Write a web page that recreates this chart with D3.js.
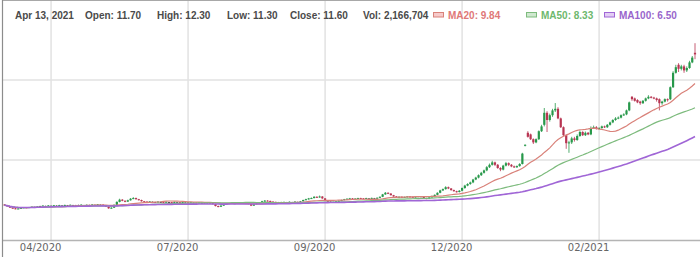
<!DOCTYPE html>
<html>
<head>
<meta charset="utf-8">
<script src="https://cdn.jsdelivr.net/npm/d3@7"></script>
<style>
	body { margin: 0; background: #fff; }
	svg { display: block; }
</style>
</head>
<body>
<div id="chart"></div>
<script>
// daily bars, oldest first (last bar = Apr 13, 2021)
var opens = [
	2.22,2.18,2.10,2.02,1.98,1.95,1.97,2.00,2.04,2.02,
	2.05,2.06,2.06,2.12,2.12,2.13,2.13,2.14,2.14,2.15,
	2.15,2.16,2.16,2.17,2.17,2.18,2.18,2.19,2.19,2.18,
	2.18,2.19,2.19,2.20,2.20,2.21,2.21,2.18,2.08,1.98,
	2.02,2.20,2.38,2.52,2.45,2.40,2.48,2.58,2.62,2.55,
	2.50,2.42,2.40,2.38,2.39,2.37,2.37,2.38,2.38,2.36,
	2.37,2.37,2.35,2.36,2.36,2.34,2.35,2.35,2.33,2.34,
	2.34,2.32,2.33,2.33,2.31,2.34,2.30,2.25,2.12,2.08,
	2.15,2.22,2.28,2.30,2.30,2.30,2.31,2.31,2.29,2.32,
	2.25,2.15,2.24,2.30,2.34,2.42,2.46,2.44,2.40,2.38,
	2.36,2.35,2.37,2.36,2.36,2.37,2.37,2.38,2.38,2.42,
	2.50,2.55,2.60,2.62,2.70,2.66,2.72,2.60,2.45,2.40,
	2.36,2.38,2.42,2.45,2.50,2.55,2.58,2.60,2.56,2.59,
	2.62,2.60,2.58,2.60,2.60,2.61,2.61,2.64,2.70,2.85,
	2.95,2.90,2.80,2.72,2.68,2.70,2.66,2.69,2.72,2.70,
	2.68,2.71,2.73,2.70,2.62,2.58,2.66,2.75,2.82,2.95,
	3.10,3.18,3.30,3.22,3.12,3.05,3.00,3.08,3.25,3.40,
	3.50,3.60,3.78,3.90,4.05,4.20,4.35,4.55,4.70,4.85,
	4.70,4.50,4.40,4.65,4.80,4.70,4.60,4.55,4.62,4.75,
	5.90,6.70,6.60,6.30,6.10,6.30,6.80,7.20,7.95,7.50,
	7.80,8.10,8.20,7.60,7.05,6.55,6.05,6.10,6.35,6.25,
	6.50,6.75,6.55,6.70,6.60,7.00,7.05,6.95,7.00,7.10,
	7.05,7.20,7.35,7.50,7.60,7.65,7.80,7.85,8.10,8.95,
	8.85,8.75,8.65,8.55,8.70,8.85,8.95,8.90,8.85,8.80,
	8.55,8.65,8.80,8.80,9.55,10.45,10.95,10.70,10.85,10.60,
	10.75,11.10,11.70
];
var highs = [
	2.25,2.20,2.12,2.05,2.00,1.99,2.02,2.06,2.06,2.07,
	2.10,2.09,2.12,2.14,2.17,2.15,2.18,2.16,2.19,2.17,
	2.20,2.18,2.21,2.19,2.22,2.20,2.20,2.21,2.23,2.20,
	2.22,2.21,2.24,2.22,2.25,2.23,2.23,2.19,2.10,2.05,
	2.22,2.42,2.58,2.56,2.48,2.52,2.62,2.68,2.65,2.57,
	2.52,2.44,2.42,2.43,2.41,2.39,2.42,2.40,2.40,2.41,
	2.39,2.39,2.40,2.38,2.38,2.39,2.37,2.37,2.38,2.36,
	2.36,2.37,2.35,2.35,2.36,2.36,2.32,2.27,2.15,2.17,
	2.24,2.30,2.32,2.34,2.32,2.35,2.33,2.33,2.34,2.33,
	2.27,2.26,2.32,2.36,2.45,2.50,2.49,2.46,2.42,2.40,
	2.38,2.39,2.40,2.38,2.41,2.39,2.42,2.40,2.44,2.52,
	2.58,2.63,2.66,2.74,2.73,2.78,2.74,2.62,2.48,2.43,
	2.40,2.44,2.48,2.52,2.57,2.60,2.63,2.62,2.61,2.64,
	2.64,2.62,2.64,2.62,2.65,2.63,2.66,2.72,2.88,3.00,
	2.98,2.93,2.82,2.75,2.72,2.72,2.71,2.74,2.74,2.72,
	2.73,2.75,2.75,2.72,2.64,2.68,2.78,2.85,2.98,3.14,
	3.22,3.36,3.34,3.25,3.15,3.08,3.12,3.28,3.45,3.55,
	3.65,3.82,3.95,4.10,4.26,4.40,4.62,4.78,4.95,4.90,
	4.75,4.55,4.70,4.88,4.85,4.75,4.65,4.66,4.80,5.45,
	5.98,6.80,6.65,6.35,6.35,6.85,7.20,8.25,8.05,7.90,
	8.20,8.56,8.30,7.65,7.10,6.60,6.20,6.45,6.45,6.60,
	6.85,6.80,6.78,6.75,7.10,7.15,7.12,7.05,7.15,7.15,
	7.25,7.40,7.55,7.68,7.72,7.85,7.92,8.15,8.65,9.00,
	8.90,8.80,8.70,8.75,8.90,9.05,9.00,8.95,8.90,8.85,
	8.70,8.85,8.85,9.60,10.55,10.95,11.05,10.95,10.95,10.85,
	11.20,11.50,12.30
];
var lows = [
	2.16,2.08,2.00,1.96,1.92,1.93,1.95,1.98,2.00,2.00,
	2.03,2.04,2.04,2.10,2.10,2.11,2.11,2.12,2.12,2.13,
	2.13,2.14,2.14,2.15,2.15,2.16,2.14,2.17,2.17,2.16,
	2.16,2.17,2.17,2.18,2.18,2.19,2.16,2.06,1.95,1.96,
	2.00,2.18,2.35,2.42,2.36,2.38,2.46,2.55,2.52,2.47,
	2.40,2.38,2.36,2.36,2.37,2.35,2.35,2.36,2.34,2.34,
	2.35,2.33,2.33,2.34,2.32,2.32,2.33,2.31,2.31,2.32,
	2.30,2.30,2.31,2.29,2.29,2.28,2.23,2.10,2.05,2.06,
	2.13,2.20,2.26,2.28,2.28,2.28,2.29,2.27,2.27,2.23,
	2.12,2.13,2.22,2.28,2.32,2.40,2.42,2.38,2.36,2.34,
	2.33,2.33,2.35,2.34,2.34,2.35,2.35,2.36,2.36,2.40,
	2.48,2.52,2.57,2.60,2.63,2.64,2.57,2.43,2.37,2.33,
	2.34,2.36,2.40,2.43,2.48,2.53,2.56,2.54,2.54,2.57,
	2.58,2.56,2.56,2.58,2.58,2.59,2.59,2.62,2.68,2.82,
	2.87,2.78,2.70,2.66,2.66,2.64,2.64,2.67,2.68,2.66,
	2.66,2.69,2.68,2.60,2.55,2.56,2.64,2.72,2.80,2.92,
	3.06,3.15,3.18,3.08,3.02,2.96,2.97,3.05,3.20,3.36,
	3.45,3.55,3.74,3.85,4.00,4.15,4.30,4.50,4.65,4.62,
	4.45,4.30,4.35,4.60,4.62,4.55,4.50,4.50,4.58,4.72,
	5.85,6.40,6.25,6.00,6.05,6.25,6.75,7.10,6.75,7.40,
	7.70,8.00,7.55,7.00,6.50,5.70,5.45,6.00,6.15,6.20,
	6.45,6.50,6.50,6.55,6.55,6.95,6.90,6.90,6.95,7.00,
	7.00,7.15,7.30,7.45,7.55,7.60,7.75,7.80,8.05,8.70,
	8.65,8.55,8.45,8.50,8.65,8.80,8.85,8.80,8.65,8.10,
	8.45,8.60,8.65,8.75,9.50,10.40,10.50,10.60,10.45,10.50,
	10.70,11.05,11.30
];
var closes = [
	2.18,2.10,2.02,1.98,1.95,1.97,2.00,2.04,2.02,2.05,
	2.08,2.06,2.10,2.12,2.15,2.13,2.16,2.14,2.17,2.15,
	2.18,2.16,2.19,2.17,2.20,2.18,2.16,2.19,2.21,2.18,
	2.20,2.19,2.22,2.20,2.23,2.21,2.18,2.08,1.98,2.02,
	2.20,2.38,2.52,2.45,2.40,2.48,2.58,2.62,2.55,2.50,
	2.42,2.40,2.38,2.41,2.39,2.37,2.40,2.38,2.36,2.39,
	2.37,2.35,2.38,2.36,2.34,2.37,2.35,2.33,2.36,2.34,
	2.32,2.35,2.33,2.31,2.34,2.30,2.25,2.12,2.08,2.15,
	2.22,2.28,2.30,2.32,2.30,2.33,2.31,2.29,2.32,2.25,
	2.15,2.24,2.30,2.34,2.42,2.46,2.44,2.40,2.38,2.36,
	2.35,2.37,2.38,2.36,2.39,2.37,2.40,2.38,2.42,2.50,
	2.55,2.60,2.62,2.70,2.66,2.72,2.60,2.45,2.40,2.36,
	2.38,2.42,2.45,2.50,2.55,2.58,2.60,2.56,2.59,2.62,
	2.60,2.58,2.62,2.60,2.63,2.61,2.64,2.70,2.85,2.95,
	2.90,2.80,2.72,2.68,2.70,2.66,2.69,2.72,2.70,2.68,
	2.71,2.73,2.70,2.62,2.58,2.66,2.75,2.82,2.95,3.10,
	3.18,3.30,3.22,3.12,3.05,3.00,3.08,3.25,3.40,3.50,
	3.60,3.78,3.90,4.05,4.20,4.35,4.55,4.70,4.85,4.70,
	4.50,4.40,4.65,4.80,4.70,4.60,4.55,4.62,4.75,5.40,
	5.95,6.45,6.30,6.10,6.30,6.80,7.10,7.95,7.50,7.80,
	8.10,8.20,7.60,7.05,6.55,6.05,6.10,6.35,6.25,6.50,
	6.75,6.55,6.70,6.60,7.00,7.05,6.95,7.00,7.10,7.05,
	7.20,7.35,7.50,7.60,7.65,7.80,7.85,8.10,8.60,8.80,
	8.70,8.60,8.55,8.70,8.85,8.95,8.90,8.85,8.75,8.55,
	8.65,8.80,8.75,9.55,10.45,10.80,10.70,10.85,10.60,10.75,
	11.10,11.40,11.60
];

// x axis labels sit on bar indices
var tickIdx = [17, 67, 117, 167, 217];
var tickLabels = ["04/2020", "07/2020", "09/2020", "12/2020", "02/2021"];
var priceTicks = [0, 5, 10, 15];

var lastDate = "Apr 13, 2021";
var lastVolume = 2166704;

var maPeriods = [20, 50, 100];
var maValues = [9.84, 8.33, 6.50];
var maColors = ["#d9827a", "#7dbb7d", "#a066d6"];
var maText = ["#e07878", "#6db86d", "#9966cc"];
var maFill = ["#f6caca", "#cfe8cf", "#e2cdf4"];

var stockChart = (function(){
	var width = 700, height = 257;
	var plotBottom = 240;

	function movingAvg(vals, n){
		return vals.map(function(d, i){
			return d3.mean(vals.slice(Math.max(0, i - n + 1), i + 1));
		});
	}

	function drawHeader(svg){
		var f = d3.format(".2f");
		var items = [
			{x: 15, t: lastDate},
			{x: 85, t: "Open: " + f(opens[opens.length-1])},
			{x: 157, t: "High: " + f(highs[highs.length-1])},
			{x: 227, t: "Low: " + f(lows[lows.length-1])},
			{x: 290, t: "Close: " + f(closes[closes.length-1])},
			{x: 363, t: "Vol: " + d3.format(",")(lastVolume)}
		];
		svg.append("g").selectAll("text")
			.data(items).enter().append("text")
			.attr("x", function(d){ return d.x; })
			.attr("y", 19)
			.attr("class", "hdr")
			.attr("fill", "#4a4a4a")
			.text(function(d){ return d.t; });

		var legX = [433, 526, 604];
		var leg = svg.append("g").selectAll("g")
			.data(maPeriods).enter().append("g")
			.attr("transform", function(d, i){ return "translate(" + legX[i] + ",0)"; });
		leg.append("rect")
			.attr("x", 0.5).attr("y", 12.5)
			.attr("width", 10).attr("height", 4.5)
			.attr("fill", function(d, i){ return maFill[i]; })
			.attr("stroke", function(d, i){ return maColors[i]; })
			.attr("stroke-width", 1);
		leg.append("text")
			.attr("x", 15).attr("y", 19)
			.attr("class", "hdr")
			.attr("fill", function(d, i){ return maText[i]; })
			.text(function(d, i){ return "MA" + d + ": " + f(maValues[i]); });
	}

	return {
		init: function(){
			var svg = d3.select("#chart").append("svg")
				.attr("width", width)
				.attr("height", height);

			svg.append("style").text(
				".hdr{font-family:'Liberation Sans',Arial,sans-serif;font-size:10px;font-weight:bold;}" +
				".tick text{font-family:'DejaVu Sans',Verdana,sans-serif;font-size:10px;fill:#666;}"
			);

			var n = closes.length;
			var x = d3.scaleLinear().domain([0, n - 1]).range([4.5, 695]);
			var y = d3.scaleLinear().domain([0, 15]).range([plotBottom, 0]);

			// grid
			var grid = svg.append("g");
			grid.selectAll(".hg")
				.data(priceTicks.slice(1, 3)).enter().append("line")
				.attr("x1", 2).attr("x2", width)
				.attr("y1", function(d){ return y(d); })
				.attr("y2", function(d){ return y(d); })
				.attr("stroke", "#e2e2e2").attr("stroke-width", 1.5);
			grid.selectAll(".vg")
				.data(tickIdx).enter().append("line")
				.attr("x1", function(d){ return x(d); })
				.attr("x2", function(d){ return x(d); })
				.attr("y1", 0).attr("y2", plotBottom)
				.attr("stroke", "#e2e2e2").attr("stroke-width", 1.5);

			// x axis labels
			var xAxis = d3.axisBottom(x)
				.tickValues(tickIdx)
				.tickSize(0)
				.tickPadding(0)
				.tickFormat(function(d, i){ return tickLabels[i]; });
			var ax = svg.append("g")
				.attr("transform", "translate(0," + plotBottom + ")")
				.call(xAxis);
			ax.select(".domain").remove();
			ax.selectAll(".tick text")
				.attr("x", -11)
				.attr("y", 11)
				.attr("dy", 0);

			// frame
			svg.append("line")
				.attr("x1", 2).attr("x2", width)
				.attr("y1", plotBottom + 0.5).attr("y2", plotBottom + 0.5)
				.attr("stroke", "#b4b4b4").attr("stroke-width", 1.3);
			svg.append("line")
				.attr("x1", 2).attr("x2", width)
				.attr("y1", 0.5).attr("y2", 0.5)
				.attr("stroke", "#a8a8a8");
			svg.append("line")
				.attr("x1", 2.5).attr("x2", 2.5)
				.attr("y1", 0).attr("y2", height)
				.attr("stroke", "#8c8c8c").attr("stroke-width", 1.2);

			// candles
			var bars = d3.range(n).map(function(i){
				return {i: i, o: opens[i], h: highs[i], l: lows[i], c: closes[i]};
			});
			function col(d){
				if (d.c > d.o) return "#27984a";
				if (d.c < d.o) return "#b83552";
				return "#4a4a4a";
			}
			var candle = svg.append("g").selectAll("g")
				.data(bars).enter().append("g");
			candle.append("line")
				.attr("x1", function(d){ return x(d.i); })
				.attr("x2", function(d){ return x(d.i); })
				.attr("y1", function(d){ return y(d.h); })
				.attr("y2", function(d){ return y(d.l); })
				.attr("stroke", col)
				.attr("stroke-width", 0.8);
			candle.append("rect")
				.attr("x", function(d){ return x(d.i) - 1.1; })
				.attr("width", 2.2)
				.attr("y", function(d){ return y(Math.max(d.o, d.c)); })
				.attr("height", function(d){ return Math.max(1, Math.abs(y(d.o) - y(d.c))); })
				.attr("fill", col);

			// moving averages
			var line = d3.line()
				.x(function(d, i){ return x(i); })
				.y(function(d){ return y(d); });
			svg.append("g").selectAll("path")
				.data(maPeriods).enter().append("path")
				.attr("d", function(p){ return line(movingAvg(closes, p)); })
				.attr("fill", "none")
				.attr("stroke", function(d, i){ return maColors[i]; })
				.attr("stroke-width", function(d, i){ return i == 2 ? 1.6 : 1.2; });

			drawHeader(svg);
		}
	};
}());

stockChart.init();
</script>
</body>
</html>
